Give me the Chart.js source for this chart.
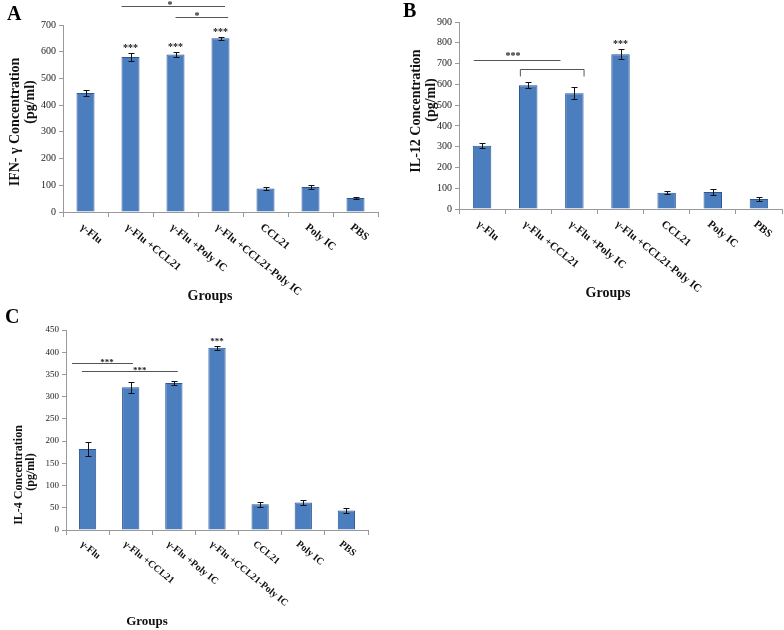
<!DOCTYPE html>
<html>
<head>
<meta charset="utf-8">
<script src="https://cdn.jsdelivr.net/npm/chart.js@4"></script>
<style>
  body { margin: 0; background: #fff; }
  #wrap { position: relative; width: 784px; height: 630px; }
  canvas { position: absolute; }
  .tag { position: absolute; font: bold 20px "Liberation Serif", serif; color: #000; }
</style>
</head>
<body>
<div id="wrap">
  <canvas id="chartA" width="392" height="305" style="left:0;top:0"></canvas>
  <canvas id="chartB" width="392" height="305" style="left:392px;top:0"></canvas>
  <canvas id="chartC" width="392" height="325" style="left:0;top:305px"></canvas>
  <div class="tag" style="left:7px;top:2px">A</div>
  <div class="tag" style="left:403px;top:-1px">B</div>
  <div class="tag" style="left:5px;top:305px">C</div>
</div>
<script>
// Cytokine levels per group (pg/ml)
const categories = ['γ-Flu', 'γ-Flu +CCL21', 'γ-Flu +Poly IC', 'γ-Flu +CCL21-Poly IC', 'CCL21', 'Poly IC', 'PBS'];
const ifnValues = [445, 580, 590, 650, 88, 94, 52];
const ifnErrors = [12, 15, 8, 5, 6, 7, 3];
const il12Values = [305, 595, 557, 745, 78, 82, 48];
const il12Errors = [12, 15, 28, 25, 8, 13, 8];
const il4Values = [182, 321, 331, 410, 58, 62, 44];
const il4Errors = [15, 12, 5, 5, 6, 5, 5];

const serif = '"Liberation Serif", "Times New Roman", serif';

// error bars, significance marks, rotated labels and titles
const panelDecor = {
    id: 'panelDecor',
    afterDatasetsDraw(chart, args, opts) {
        const ctx = chart.ctx;
        const xs = chart.scales.x, ys = chart.scales.y;
        const vals = chart.data.datasets[0].data;
        const meta = chart.getDatasetMeta(0);
        const step = xs.getPixelForValue(1) - xs.getPixelForValue(0);
        const catX = c => xs.getPixelForValue(0) + c * step;

        ctx.save();
        // error bars
        ctx.strokeStyle = '#111';
        ctx.lineWidth = 1;
        meta.data.forEach((bar, i) => {
            const bx = Math.round(bar.x) + 0.5;
            const top = Math.round(ys.getPixelForValue(vals[i] + opts.errors[i])) + 0.5;
            const bot = Math.round(ys.getPixelForValue(vals[i] - opts.errors[i])) + 0.5;
            ctx.beginPath();
            ctx.moveTo(bx, top); ctx.lineTo(bx, bot);
            ctx.moveTo(bx - 3, top); ctx.lineTo(bx + 3, top);
            ctx.moveTo(bx - 3, bot); ctx.lineTo(bx + 3, bot);
            ctx.stroke();
        });

        // stars above bars
        ctx.fillStyle = '#222';
        ctx.textAlign = 'center';
        ctx.textBaseline = 'alphabetic';
        ctx.font = 'bold ' + opts.starSize + 'px ' + serif;
        opts.starBars.forEach(i => {
            ctx.fillText('***', meta.data[i].x, ys.getPixelForValue(vals[i] + opts.errors[i]) - 2);
        });

        // comparison lines
        ctx.strokeStyle = '#555';
        opts.lines.forEach(l => {
            const y = Math.round(ys.getPixelForValue(l.value)) + 0.5;
            ctx.beginPath();
            if (l.leg !== undefined) {
                const yl = ys.getPixelForValue(l.leg);
                ctx.moveTo(catX(l.from), yl);
                ctx.lineTo(catX(l.from), y);
                ctx.lineTo(catX(l.to), y);
                ctx.lineTo(catX(l.to), yl);
            } else {
                ctx.moveTo(catX(l.from), y);
                ctx.lineTo(catX(l.to), y);
            }
            ctx.stroke();
            if (l.label) {
                ctx.fillText(l.label, catX(l.labelAt), y + l.labelDy);
            }
        });

        // rotated category labels
        ctx.fillStyle = '#111';
        ctx.textAlign = 'left';
        ctx.textBaseline = 'middle';
        ctx.font = 'bold ' + opts.labelSize + 'px ' + serif;
        categories.forEach((c, i) => {
            ctx.save();
            ctx.translate(xs.getPixelForValue(i) + opts.labelDx, xs.top + opts.labelDy);
            ctx.rotate(39 * Math.PI / 180);
            ctx.fillText(c, 0, 0);
            ctx.restore();
        });

        // axis titles
        ctx.textAlign = 'center';
        ctx.font = 'bold ' + opts.groupsSize + 'px ' + serif;
        ctx.fillText('Groups', opts.groupsAt[0], opts.groupsAt[1]);
        ctx.font = 'bold ' + opts.yTitle.size + 'px ' + serif;
        opts.yTitle.lines.forEach((t, k) => {
            ctx.save();
            ctx.translate(opts.yTitle.x[k], opts.yTitle.y[k]);
            ctx.rotate(-Math.PI / 2);
            ctx.fillText(t, 0, 0);
            ctx.restore();
        });
        ctx.restore();
    }
};

function makePanel(id, values, max, stepSize, box, decor) {
    new Chart(document.getElementById(id), {
        type: 'bar',
        data: {
            labels: categories,
            datasets: [{
                data: values,
                backgroundColor: '#4a7ebf',
                borderColor: '#2c5694',
                borderWidth: 1,
                barPercentage: 0.4,
                categoryPercentage: 1
            }]
        },
        options: {
            responsive: false,
            animation: false,
            devicePixelRatio: 1,
            layout: { padding: { top: box.top, right: box.right, left: 0, bottom: 0 } },
            plugins: {
                legend: { display: false },
                tooltip: { enabled: false },
                panelDecor: decor
            },
            scales: {
                x: {
                    afterFit: s => { s.height = box.xHeight; },
                    ticks: { display: false },
                    grid: { offset: true, drawOnChartArea: false, drawTicks: true, tickLength: 5, color: '#999' },
                    border: { color: '#999' }
                },
                y: {
                    min: 0,
                    max: max,
                    afterFit: s => { s.width = box.yWidth; },
                    ticks: { stepSize: stepSize, color: '#222', padding: 3, font: { family: serif, size: box.tickSize } },
                    grid: { drawOnChartArea: false, drawTicks: true, tickLength: 4, color: '#999' },
                    border: { color: '#999' }
                }
            }
        },
        plugins: [panelDecor]
    });
}

makePanel('chartA', ifnValues, 700, 100,
    { top: 25, right: 14, yWidth: 63, xHeight: 93, tickSize: 10 },
    {
        errors: ifnErrors, starBars: [1, 2, 3], starSize: 10,
        lines: [
            { from: 0.8, to: 3.1, value: 770, label: '*', labelAt: 1.88, labelDy: 1 },
            { from: 2.0, to: 3.17, value: 730, label: '*', labelAt: 2.48, labelDy: 1 }
        ],
        labelSize: 11, labelDx: -4, labelDy: 14,
        groupsSize: 14, groupsAt: [210, 296],
        yTitle: { lines: ['IFN- γ Concentration', '(pg/ml)'], x: [15, 30], y: [122, 102], size: 14 }
    });

makePanel('chartB', il12Values, 900, 100,
    { top: 22, right: 2, yWidth: 67, xHeight: 96, tickSize: 10 },
    {
        errors: il12Errors, starBars: [3], starSize: 10,
        lines: [
            { from: -0.18, to: 1.7, value: 715, label: '***', labelAt: 0.67, labelDy: -2 },
            { from: 0.83, to: 2.21, value: 672, leg: 638 }
        ],
        labelSize: 11, labelDx: -4, labelDy: 14,
        groupsSize: 14, groupsAt: [216, 293],
        yTitle: { lines: ['IL-12 Concentration', '(pg/ml)'], x: [24, 39], y: [111, 100], size: 14 }
    });

makePanel('chartC', il4Values, 450, 50,
    { top: 25, right: 24, yWidth: 66, xHeight: 100, tickSize: 9 },
    {
        errors: il4Errors, starBars: [3], starSize: 9,
        lines: [
            { from: -0.36, to: 1.05, value: 375, label: '***', labelAt: 0.45, labelDy: 1 },
            { from: -0.13, to: 2.09, value: 358, label: '***', labelAt: 1.21, labelDy: 1 }
        ],
        labelSize: 10, labelDx: -6, labelDy: 13,
        groupsSize: 13, groupsAt: [147, 317],
        yTitle: { lines: ['IL-4 Concentration', '(pg/ml)'], x: [19, 31], y: [170, 167], size: 12 }
    });
</script>
</body>
</html>
